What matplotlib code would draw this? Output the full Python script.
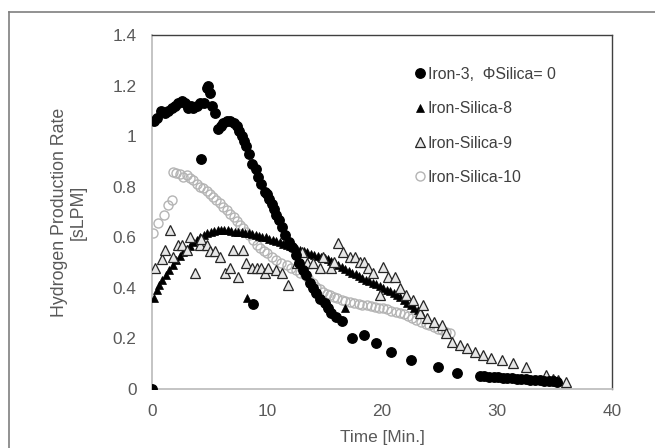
import matplotlib
matplotlib.use("Agg")
import matplotlib.pyplot as plt
from matplotlib.lines import Line2D

plt.rcParams['font.family'] = ['Liberation Sans', 'DejaVu Sans']

# Iron-3, PhiSilica = 0 (filled circles)
t_fe3 = [0, 0.2, 0.4, 0.8, 1.1, 1.4, 1.7, 2.0, 2.3, 2.6, 2.9, 3.1, 3.4, 3.6, 3.9, 4.2, 4.5,
         4.75, 4.9, 5.0, 5.2, 5.5, 5.7, 6.0, 6.2, 6.5, 6.8, 7.1, 7.4, 7.6, 7.8, 8.0, 8.2, 8.4,
         8.7, 9.0, 9.2, 9.5, 9.8, 10.0, 10.2, 10.4, 10.6, 10.8, 11.0, 11.3, 11.6, 11.9, 12.2,
         12.5, 12.8, 13.1, 13.4, 13.7, 14.0, 14.3, 14.6, 15.0, 15.3, 15.6, 16.0, 16.5, 17.4,
         18.4, 19.5, 20.8, 22.5, 24.9, 26.5, 28.5, 28.9, 29.3, 29.7, 30.1, 30.5, 30.9, 31.3,
         31.7, 32.1, 32.5, 32.9, 33.3, 33.7, 34.1, 34.5, 34.9, 35.2, 4.3, 8.8]
r_fe3 = [0, 1.06, 1.07, 1.10, 1.09, 1.10, 1.11, 1.12, 1.13, 1.14, 1.13, 1.11, 1.12, 1.11, 1.12,
         1.13, 1.13, 1.19, 1.20, 1.17, 1.12, 1.09, 1.03, 1.04, 1.05, 1.06, 1.06, 1.05, 1.04,
         1.02, 1.00, 0.98, 0.96, 0.93, 0.89, 0.87, 0.84, 0.81, 0.78, 0.77, 0.75, 0.73, 0.71,
         0.69, 0.67, 0.64, 0.61, 0.58, 0.56, 0.53, 0.50, 0.47, 0.45, 0.42, 0.40, 0.38, 0.355,
         0.34, 0.32, 0.30, 0.285, 0.27, 0.20, 0.214, 0.18, 0.147, 0.115, 0.088, 0.065, 0.051,
         0.05, 0.049, 0.048, 0.046, 0.045, 0.044, 0.042, 0.041, 0.040, 0.039, 0.037, 0.036,
         0.035, 0.033, 0.032, 0.030, 0.029, 0.91, 0.336]

# Iron-Silica-8 (filled triangles)
t_s8 = [0, 0.2, 0.4, 0.6, 0.9, 1.2, 1.5, 1.8, 2.1, 2.4, 2.7, 3.0, 3.3, 3.6, 3.9, 4.2, 4.5, 4.8,
        5.1, 5.4, 5.7, 6.0, 6.3, 6.6, 6.9, 7.2, 7.5, 7.8, 8.1, 8.4, 8.7, 9.0, 9.3, 9.6, 9.9,
        10.2, 10.5, 10.8, 11.1, 11.4, 11.7, 12.0, 12.3, 12.6, 12.9, 13.2, 13.5, 13.8, 14.1,
        14.4, 14.7, 15.0, 15.3, 15.6, 15.9, 16.2, 16.5, 16.8, 17.1, 17.4, 17.7, 18.0, 18.3,
        18.6, 18.9, 19.2, 19.5, 19.8, 20.1, 20.4, 20.7, 21.0, 21.3, 21.6, 21.9, 22.2, 22.5,
        22.8, 23.1, 23.4, 8.3, 16.8, 35.0]
r_s8 = [0, 0.36, 0.39, 0.41, 0.43, 0.45, 0.47, 0.49, 0.51, 0.525, 0.54, 0.555, 0.565, 0.58,
        0.59, 0.60, 0.61, 0.615, 0.62, 0.625, 0.63, 0.63, 0.63, 0.628, 0.625, 0.622, 0.62,
        0.62, 0.618, 0.615, 0.612, 0.61, 0.607, 0.603, 0.60, 0.595, 0.59, 0.585, 0.58, 0.575,
        0.57, 0.565, 0.56, 0.555, 0.55, 0.545, 0.54, 0.535, 0.53, 0.527, 0.523, 0.52, 0.513,
        0.505, 0.497, 0.49, 0.483, 0.476, 0.468, 0.46, 0.453, 0.446, 0.44, 0.433, 0.427, 0.42,
        0.414, 0.408, 0.40, 0.393, 0.386, 0.378, 0.37, 0.362, 0.352, 0.342, 0.332, 0.322,
        0.312, 0.30, 0.36, 0.32, 0.035]

# Iron-Silica-9 (open triangles)
t_s9 = [0.26, 0.84, 1.13, 1.57, 1.85, 2.3, 2.6, 3.0, 3.3, 3.7, 4.2, 4.3, 4.75, 5.0, 5.5, 5.9,
        6.35, 6.8, 7.07, 7.5, 7.9, 8.2, 8.7, 9.1, 9.5, 9.8, 10.1, 10.8, 11.3, 11.85, 12.6,
        13.0, 13.45, 14.0, 14.6, 14.9, 15.6, 15.8, 16.2, 16.6, 17.2, 17.65, 18.1, 18.4, 18.8,
        19.25, 19.8, 20.1, 20.5, 21.1, 21.6, 22.1, 22.7, 23.3, 23.6, 23.9, 24.5, 25.2, 25.6,
        26.1, 26.8, 27.4, 28.1, 28.8, 29.5, 30.4, 31.4, 32.5, 34.3, 34.9, 35.3, 36.0]
r_s9 = [0.477, 0.516, 0.55, 0.629, 0.523, 0.569, 0.569, 0.55, 0.60, 0.457, 0.569, 0.595, 0.569,
        0.547, 0.547, 0.523, 0.457, 0.48, 0.55, 0.444, 0.55, 0.497, 0.48, 0.48, 0.48, 0.457,
        0.48, 0.47, 0.457, 0.41, 0.497, 0.543, 0.497, 0.497, 0.477, 0.523, 0.477, 0.503, 0.576,
        0.543, 0.523, 0.523, 0.503, 0.503, 0.477, 0.46, 0.372, 0.484, 0.444, 0.444, 0.398,
        0.372, 0.352, 0.30, 0.332, 0.28, 0.266, 0.253, 0.22, 0.187, 0.174, 0.161, 0.147, 0.134,
        0.121, 0.115, 0.104, 0.088, 0.055, 0.04, 0.036, 0.029]

# Iron-Silica-10 (open grey circles)
t_s10 = [0.1, 0.55, 1.0, 1.4, 1.7, 1.85, 2.1, 2.4, 2.7, 3.0, 3.3, 3.6, 3.9, 4.2, 4.46, 4.75,
         5.0, 5.3, 5.6, 5.9, 6.2, 6.5, 6.8, 7.1, 7.4, 7.65, 7.9, 8.15, 8.4, 8.75, 9.1, 9.4,
         9.7, 10.0, 10.4, 10.8, 11.2, 11.7, 12.1, 12.5, 12.9, 13.3, 13.6, 14.0, 14.3, 14.6,
         14.9, 15.2, 15.5, 15.8, 16.1, 16.5, 16.8, 17.2, 17.6, 18.0, 18.3, 18.7, 19.0, 19.4,
         19.7, 20.1, 20.4, 20.8, 21.2, 21.6, 21.9, 22.3, 22.6, 23.0, 23.4, 23.8, 24.1, 24.5,
         24.9, 25.2, 25.6, 25.9]
r_s10 = [0.615, 0.655, 0.688, 0.727, 0.747, 0.86, 0.855, 0.85, 0.84, 0.845, 0.835, 0.826, 0.81,
         0.80, 0.793, 0.783, 0.773, 0.76, 0.747, 0.734, 0.72, 0.707, 0.694, 0.68, 0.663, 0.648,
         0.635, 0.622, 0.609, 0.59, 0.569, 0.558, 0.547, 0.536, 0.523, 0.51, 0.50, 0.49, 0.48,
         0.47, 0.46, 0.45, 0.44, 0.42, 0.405, 0.395, 0.385, 0.377, 0.37, 0.365, 0.36, 0.353,
         0.348, 0.345, 0.34, 0.336, 0.333, 0.332, 0.328, 0.325, 0.322, 0.319, 0.315, 0.31,
         0.305, 0.30, 0.295, 0.287, 0.28, 0.273, 0.265, 0.258, 0.252, 0.246, 0.238, 0.232,
         0.226, 0.22]

x_ticks = [0, 10, 20, 30, 40]
y_ticks = [0, 0.2, 0.4, 0.6, 0.8, 1.0, 1.2, 1.4]
y_tick_labels = ["0", "0.2", "0.4", "0.6", "0.8", "1", "1.2", "1.4"]

grey_txt = "#595959"

fig = plt.figure(figsize=(6.55, 4.48), dpi=100)
ax = fig.add_axes([152 / 655, 59 / 448, 460 / 655, 354 / 448])

ax.plot(t_s10, r_s10, linestyle="none", marker="o", ms=6.5, mfc="none", mec="#b4b4b4",
        mew=1.0, label="Iron-Silica-10", zorder=2)
ax.plot(t_s8, r_s8, linestyle="none", marker="^", ms=5.8, mfc="black", mec="black",
        mew=0.5, label="Iron-Silica-8", zorder=3)
ax.plot(t_s9, r_s9, linestyle="none", marker="^", ms=7, mfc="#e6e6e6", mec="#262626",
        mew=0.9, label="Iron-Silica-9", zorder=4)
ax.plot(t_fe3, r_fe3, linestyle="none", marker="o", ms=6.8, mfc="black", mec="black",
        label="Iron-3,  \u03a6Silica= 0", zorder=5)

ax.set_xlim(0, 40)
ax.set_ylim(0, 1.4)
ax.set_xticks(x_ticks)
ax.set_yticks(y_ticks)
ax.set_yticklabels(y_tick_labels)
ax.tick_params(length=0, pad=11, labelsize=12.4, labelcolor=grey_txt)

for side in ["left", "bottom"]:
    ax.spines[side].set_color("#bfbfbf")
    ax.spines[side].set_linewidth(1.3)
for side in ["top", "right"]:
    ax.spines[side].set_color("#404040")
    ax.spines[side].set_linewidth(1.0)

ax.set_xlabel("Time [Min.]", fontsize=12.4, color=grey_txt)
ax.xaxis.set_label_coords(0.5, -48 / 354)
ax.xaxis.label.set_va("center")
ax.set_ylabel("Hydrogen Production Rate\n[sLPM]", fontsize=12.8, color=grey_txt,
              linespacing=1.1)
ax.yaxis.set_label_coords(-83 / 460, 0.5)
ax.yaxis.label.set_va("center")

handles, labels = ax.get_legend_handles_labels()
order = [3, 1, 2, 0]
leg = ax.legend([handles[i] for i in order], [labels[i] for i in order],
                loc="upper left", bbox_to_anchor=(415 / 655, 1 - 67 / 448),
                bbox_transform=fig.transFigure, frameon=False, fontsize=11.4,
                handlelength=0.6, handletextpad=0.2, labelspacing=1.22,
                borderpad=0, borderaxespad=0)
for txt in leg.get_texts():
    txt.set_color("#404040")

# outer frame of the figure
fig.add_artist(Line2D([9 / 655, 9 / 655], [0, 1 - 12 / 448], color="#7f7f7f", lw=1.2))
fig.add_artist(Line2D([9 / 655, 1], [1 - 12 / 448, 1 - 12 / 448], color="#7f7f7f", lw=1.2))

fig.savefig("out.png", dpi=100)
